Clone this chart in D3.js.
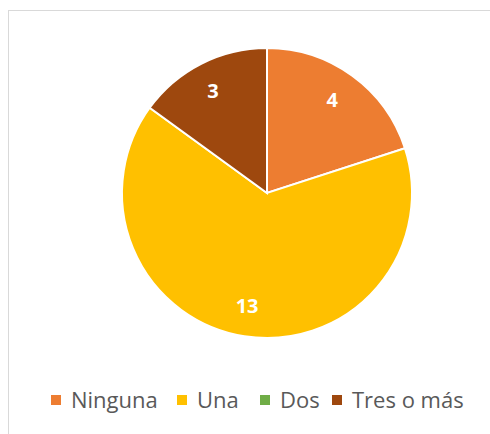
<!DOCTYPE html>
<html>
<head>
<meta charset="utf-8">
<script src="https://cdn.jsdelivr.net/npm/d3@7"></script>
<style>
  body { margin: 0; background: #fff; }
  text { font-family: "Open Sans", "Liberation Sans", sans-serif; }
</style>
</head>
<body>
<div id="chart"></div>
<script>
// chart data
const categories = ["Ninguna", "Una", "Dos", "Tres o más"];
const values = [4, 13, 0, 3];
const colors = ["#ED7D31", "#FFC000", "#70AD47", "#9E480E"];

const width = 490, height = 434;
const cx = 267, cy = 193, radius = 145;

let svg = d3.select("#chart").append("svg")
    .attr("width", width)
    .attr("height", height);

// chart area border
svg.append("rect")
    .attr("x", 8.5).attr("y", 10.5)
    .attr("width", 490).attr("height", 440)
    .attr("fill", "none")
    .attr("stroke", "#d9d9d9")
    .attr("stroke-width", 1);

let color = d3.scaleOrdinal().domain(categories).range(colors);

let pie = d3.pie().sort(null).value(d => d.value);
let data = categories.map((c, i) => ({name: c, value: values[i]}));
let arcs = pie(data);

let arc = d3.arc().innerRadius(0).outerRadius(radius);
let labelArc = d3.arc().innerRadius(radius * 0.79).outerRadius(radius * 0.79);

let g = svg.append("g").attr("transform", `translate(${cx},${cy})`);

g.selectAll("path")
    .data(arcs.filter(d => d.value > 0))
    .enter().append("path")
    .attr("d", arc)
    .attr("fill", d => color(d.data.name))
    .attr("stroke", "white")
    .attr("stroke-width", 2);

g.selectAll("text.lbl")
    .data(arcs.filter(d => d.value > 0))
    .enter().append("text")
    .attr("class", "lbl")
    .attr("transform", d => {
        let c = labelArc.centroid(d);
        return `translate(${c[0] - 2},${c[1]})`;
    })
    .attr("text-anchor", "middle")
    .attr("dy", "0.35em")
    .attr("fill", "white")
    .style("font-size", "20px")
    .style("font-weight", "bold")
    .text(d => d.value);

// legend
let legendX = [51, 177, 260, 332];
let legend = svg.append("g").attr("class", "legend");
let items = legend.selectAll("g")
    .data(categories)
    .enter().append("g")
    .attr("transform", (d, i) => `translate(${legendX[i]},395)`);

items.append("rect")
    .attr("width", 10).attr("height", 10)
    .attr("fill", d => color(d));

items.append("text")
    .attr("x", 20).attr("y", 12.5)
    .attr("fill", "#595959")
    .style("font-size", "22px")
    .text(d => d);
</script>
</body>
</html>
